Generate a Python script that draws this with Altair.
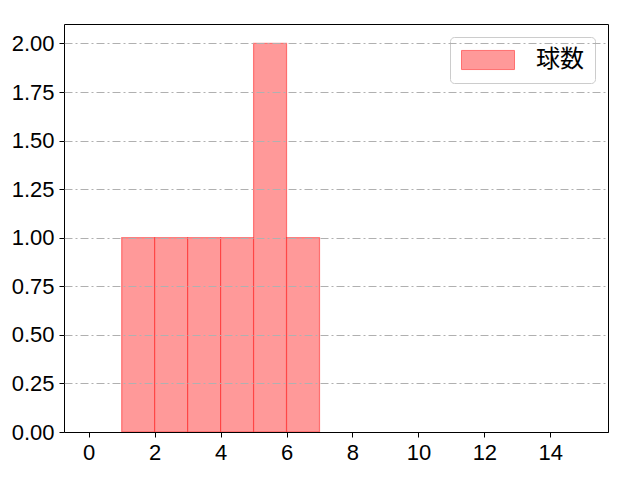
import altair as alt
import pandas as pd

bin_start = [1, 2, 3, 4, 5, 6]
bin_end = [2, 3, 4, 5, 6, 7]
counts = [1, 1, 1, 1, 2, 1]
series = ["球数"] * 6
x_ticks = [0, 2, 4, 6, 8, 10, 12, 14]
y_ticks = [0, 0.25, 0.5, 0.75, 1.0, 1.25, 1.5, 1.75, 2.0]

df = pd.DataFrame({"start": bin_start, "end": bin_end, "count": counts, "series": series})

TICK_FONT = "Liberation Sans"
CJK_FONT = "Noto Sans CJK JP"

chart = (
    alt.Chart(df)
    .mark_bar(stroke="red", strokeOpacity=0.45, strokeWidth=1.2, fillOpacity=1)
    .encode(
        x=alt.X(
            "start:Q",
            scale=alt.Scale(domain=[-0.75, 15.75], nice=False, zero=False, padding=0),
            axis=alt.Axis(values=x_ticks, title=None, grid=False, domain=True,
                          domainColor="black", domainWidth=1, zindex=2,
                          tickColor="black", tickSize=5, labelPadding=5,
                          labelFont=TICK_FONT, labelFontSize=22, labelColor="black"),
        ),
        x2="end:Q",
        y=alt.Y(
            "count:Q",
            scale=alt.Scale(domain=[0, 2.1], nice=False, padding=0),
            axis=alt.Axis(values=y_ticks, format=".2f", title=None, grid=True,
                          gridDash=[8, 3, 2, 3], gridColor="#b0b0b0", gridWidth=1,
                          domain=False, tickColor="black", tickSize=5, labelPadding=5,
                          labelFont=TICK_FONT, labelFontSize=22, labelColor="black", zindex=1),
        ),
        y2=alt.datum(0),
        color=alt.Color(
            "series:N",
            scale=alt.Scale(range=["#ff9999"]),
            legend=alt.Legend(
                title=None, orient="top-right", offset=13, padding=11,
                strokeColor="#cccccc", cornerRadius=4, fillColor="white",
                symbolType="M-1,-0.36H1V0.36H-1Z", symbolSize=2809,
                symbolStrokeColor="#ff7070", symbolStrokeWidth=1,
                symbolOpacity=1, labelOffset=21, clipHeight=24,
                labelFont=CJK_FONT, labelFontSize=24, labelColor="black",
            ),
        ),
    )
    .properties(
        width=544, height=408,
        autosize=alt.AutoSizeParams(type="none"),
        padding={"left": 56, "top": 16, "right": 16, "bottom": 40},
    )
    .configure_view(stroke="black", strokeWidth=1)
)

chart.save("out.html", embed_options={"renderer": "svg", "actions": False})
